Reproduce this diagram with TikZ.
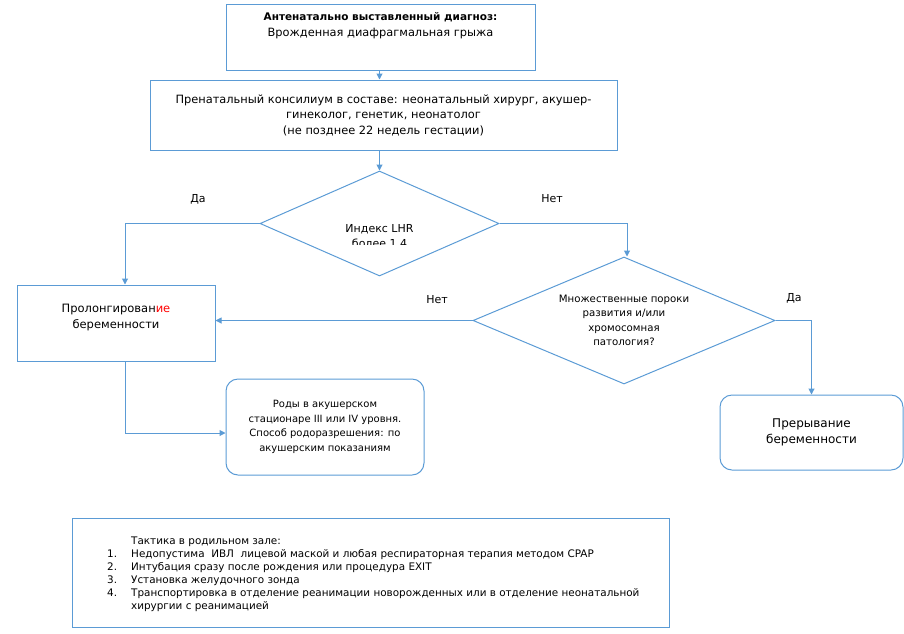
\documentclass[tikz,border=0pt]{standalone}
\usepackage{fontspec}
\setmainfont{DejaVu Sans}
\usetikzlibrary{shapes.geometric, arrows.meta, positioning}

\definecolor{flowblue}{RGB}{91,155,213}
\definecolor{flowred}{RGB}{255,0,0}
\newcommand{\listnum}[1]{\makebox[24pt][l]{#1}}

\begin{document}
\begin{tikzpicture}[
    x=1pt, y=-1pt,
    box/.style={rectangle, draw=flowblue, line width=1pt, inner sep=0pt},
    rbox/.style={box, rounded corners=12pt},
    decision/.style={diamond, draw=flowblue, line width=1pt, inner sep=0pt},
    txt/.style={align=center, inner sep=0pt, font=\fontsize{11.4}{15.5}\selectfont},
    small/.style={txt, font=\fontsize{10}{14.5}\selectfont},
    big/.style={txt, font=\fontsize{12}{16.5}\selectfont},
    answer/.style={inner sep=0pt, font=\fontsize{11}{13}\selectfont},
    arrow/.style={-{Triangle[length=6pt, width=6pt]}, draw=flowblue, line width=1pt}
]
    \useasboundingbox (0,0) rectangle (904,633);

    % diagnosis and council
    \node[box, minimum width=309pt, minimum height=66pt] (diag) at (380.5,37) {};
    \node[txt, below=9pt of diag.north] (diag-text) {{\fontsize{10.5}{15.5}\selectfont\bfseries Антенатально выставленный диагноз:}\\Врожденная диафрагмальная грыжа};
    \node[box, txt, minimum width=467pt, minimum height=70pt] (consil) at (383.5,115) {Пренатальный консилиум в составе: неонатальный хирург, акушер-\\гинеколог, генетик, неонатолог\\(не позднее 22 недель гестации)};

    % decisions
    \node[decision, minimum width=239pt, minimum height=105pt] (lhr) at (379.5,223.5) {};
    \begin{scope}
        \clip (300,213) rectangle (460,244.5);
        \node[txt, font=\fontsize{11}{15.5}\selectfont] (lhr-text) at (379.5,236) {Индекс LHR\\более 1.4};
    \end{scope}
    \node[decision, txt, font=\fontsize{10.2}{14.5}\selectfont, aspect=2.4, minimum width=302pt, minimum height=127pt] (malf) at (624,320.5) {Множественные пороки\\развития и/или\\хромосомная\\патология?};

    % outcomes
    \node[box, minimum width=198pt, minimum height=76pt] (prolong) at (116,323) {};
    \node[big, font=\fontsize{11.5}{16}\selectfont] (prolong-text) at (116,317) {Пролонгирован\textcolor{flowred}{ие}\\беременности};
    \node[rbox, small, minimum width=198pt, minimum height=96pt] (birth) at (325,427) {Роды в акушерском\\стационаре III или IV уровня.\\Способ родоразрешения: по\\акушерским показаниям};
    \node[rbox, big, minimum width=183pt, minimum height=75pt] (abort) at (811.5,432.5) {Прерывание\\беременности};

    % delivery room
    \node[box, minimum width=597pt, minimum height=109pt] (tactics) at (370.5,572.5) {};
    \node[txt, align=left, font=\fontsize{10.4}{13}\selectfont, anchor=west] (tactics-text) at (107,574.5) {\listnum{}Тактика в родильном зале:\\
        \listnum{1.}Недопустима\ \ ИВЛ\ \ лицевой маской и любая респираторная терапия методом CPAP\\
        \listnum{2.}Интубация сразу после рождения или процедура EXIT\\
        \listnum{3.}Установка желудочного зонда\\
        \listnum{4.}Транспортировка в отделение реанимации новорожденных или в отделение неонатальной\\
        \listnum{}хирургии с реанимацией};

    % answers
    \node[answer] (lhr-yes) at (198,199) {Да};
    \node[answer] (lhr-no) at (552,199) {Нет};
    \node[answer] (malf-no) at (437,300) {Нет};
    \node[answer] (malf-yes) at (794,298) {Да};

    \draw[arrow] (diag.south -| lhr) -- (consil.north -| lhr);
    \draw[arrow] (consil.south -| lhr) -- (lhr.north);
    \draw[arrow] (lhr.west) -| ([xshift=9pt]prolong.north);
    \draw[arrow] (lhr.east) -| ([xshift=3pt]malf.north);
    \draw[arrow] (malf.west) -- (malf.west -| prolong.east);
    \draw[arrow] (malf.east) -| (abort.north);
    \draw[arrow] ([xshift=9pt]prolong.south) |- ([yshift=-6pt]birth.west);
\end{tikzpicture}
\end{document}
